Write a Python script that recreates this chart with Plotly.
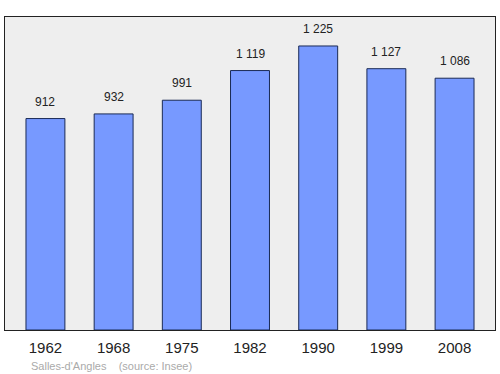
import plotly.graph_objects as go

years = ["1962", "1968", "1975", "1982", "1990", "1999", "2008"]
population = [912, 932, 991, 1119, 1225, 1127, 1086]
labels = ["912", "932", "991", "1 119", "1 225", "1 127", "1 086"]

fig = go.Figure()
fig.add_trace(go.Bar(
    x=list(range(len(years))), y=population, width=0.571,
    marker=dict(color="#7799ff", line=dict(color="#1a2a55", width=1)),
    hoverinfo="skip",
))
for i, (v, t) in enumerate(zip(population, labels)):
    fig.add_annotation(x=i, y=v, text=t, showarrow=False, yanchor="bottom",
                       yshift=8, font=dict(size=12, color="#222222",
                                           family="Liberation Sans, Arial, sans-serif"))
fig.add_annotation(xref="paper", yref="paper", x=0.048, y=-0.09, xanchor="left",
                   yanchor="top", showarrow=False,
                   text="Salles-d'Angles &nbsp;&nbsp; (source: Insee)",
                   font=dict(size=11, color="#aaaaaa", family="Liberation Sans, Arial, sans-serif"))
fig.update_layout(
    width=500, height=374,
    margin=dict(l=5, r=5, t=17, b=44),
    paper_bgcolor="white", plot_bgcolor="#eeeeee",
    showlegend=False,
    xaxis=dict(range=[-0.593, 6.593], tickvals=list(range(len(years))), ticktext=years,
               showgrid=False, zeroline=False, showline=True, linecolor="#222222",
               linewidth=1, mirror=True, ticks="", ticklabelstandoff=4,
               tickfont=dict(size=15, color="#222222", family="Liberation Sans, Arial, sans-serif")),
    yaxis=dict(range=[0, 1350], showgrid=False, zeroline=False, showticklabels=False,
               showline=True, linecolor="#222222", linewidth=1, mirror=True, ticks=""),
)
fig.write_html("out.html")
